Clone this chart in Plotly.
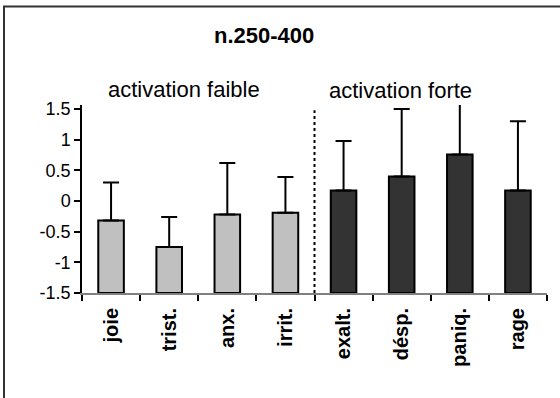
import plotly.graph_objects as go

categories = ["joie", "trist.", "anx.", "irrit.", "exalt.", "désp.", "paniq.", "rage"]
means = [-0.32, -0.75, -0.22, -0.19, 0.17, 0.40, 0.76, 0.17]
sd_plus = [0.62, 0.49, 0.84, 0.58, 0.81, 1.10, 1.00, 1.13]
groups = ["faible", "faible", "faible", "faible", "forte", "forte", "forte", "forte"]
group_colors = {"faible": "#C0C0C0", "forte": "#333333"}
title_text = "n.250-400"
group_labels = ["activation faible", "activation forte"]
y_ticks = [-1.5, -1, -0.5, 0, 0.5, 1, 1.5]
y_tick_text = ["-1.5", "-1", "-0.5", "0", "0.5", "1", "1.5"]
axis_floor = -1.5

FONT = "Liberation Sans, Arial, sans-serif"

fig = go.Figure()
fig.add_trace(go.Bar(
    x=categories,
    y=[m - axis_floor for m in means],
    base=axis_floor,
    marker=dict(color=[group_colors[g] for g in groups],
                line=dict(color="black", width=2)),
    error_y=dict(type="data", symmetric=False, array=sd_plus,
                 arrayminus=[0] * len(sd_plus),
                 color="black", thickness=2, width=8),
    width=0.44,
    showlegend=False,
    hovertext=[str(m) for m in means],
))

# dotted separator between the two groups
fig.add_shape(type="line", xref="x", yref="y", x0=3.5, x1=3.5, y0=-1.5, y1=1.48,
              line=dict(color="black", width=2, dash="dot"))

# outer chart border (left and top visible)
fig.add_shape(type="rect", xref="paper", yref="paper",
              x0=(4 - 82) / 465, x1=(570 - 82) / 465,
              y0=(293 - 410) / 188, y1=(293 - 6.5) / 188,
              line=dict(color="#333333", width=2), layer="below")

fig.add_annotation(text="<b>" + title_text + "</b>", xref="paper", yref="paper",
                   x=(264 - 82) / 465, y=(293 - 35) / 188, showarrow=False,
                   xanchor="center", yanchor="middle",
                   font=dict(family=FONT, size=22, color="black"))
fig.add_annotation(text=group_labels[0], xref="paper", yref="paper",
                   x=(184 - 82) / 465, y=(293 - 89) / 188, showarrow=False,
                   xanchor="center", yanchor="middle",
                   font=dict(family=FONT, size=22, color="black"))
fig.add_annotation(text=group_labels[1], xref="paper", yref="paper",
                   x=(400 - 82) / 465, y=(293 - 90) / 188, showarrow=False,
                   xanchor="center", yanchor="middle",
                   font=dict(family=FONT, size=22, color="black"))

fig.update_layout(
    width=560, height=398,
    margin=dict(l=82, r=13, t=105, b=105),
    paper_bgcolor="white", plot_bgcolor="white",
    font=dict(family=FONT, color="black"),
    bargap=0.56,
)
fig.update_xaxes(
    showline=True, linecolor="#808080", linewidth=2,
    ticks="outside", ticklen=6, tickwidth=1.5, tickcolor="black",
    tickson="boundaries", tickangle=-90,
    tickfont=dict(family=FONT, size=20, color="black", weight="bold"),
    ticklabelstandoff=5,
    showgrid=False,
)
fig.update_yaxes(
    range=[-1.5, 1.565], tickvals=y_ticks, ticktext=y_tick_text,
    showline=True, linecolor="black", linewidth=1.5,
    ticks="outside", ticklen=6, tickwidth=1.5, tickcolor="black",
    tickfont=dict(family=FONT, size=18, color="black"),
    showgrid=False, zeroline=False,
)

fig.write_html("out.html")
